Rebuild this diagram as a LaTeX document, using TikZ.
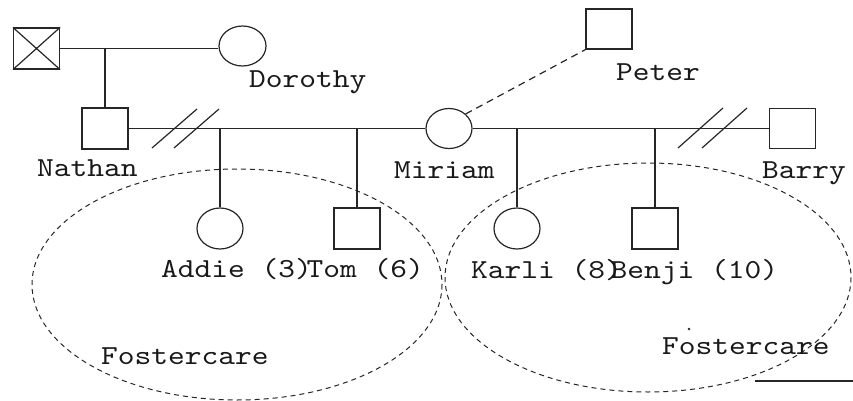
\documentclass[tikz,border=0pt]{standalone}
\usepackage{fontspec}
\newfontfamily\cour[FakeStretch=1.16]{lmmono10-regular.otf}
\usetikzlibrary{shapes.geometric}
\begin{document}
\begin{tikzpicture}[x=1pt,y=-1pt,
  line width=1.2pt, draw=black!85,
  male/.style={draw, rectangle, minimum width=46pt, minimum height=41pt, inner sep=0pt, line width=1.2pt},
  female/.style={draw, ellipse, minimum width=46pt, minimum height=41pt, inner sep=0pt, line width=1.2pt},
  lbl/.style={anchor=base west, inner sep=0pt, font=\cour\fontsize{27.5}{30}\selectfont, text=black!90},
  grp/.style={draw, dashed, line width=1pt, dash pattern=on 5pt off 4pt},
  rel/.style={line width=1.2pt}]
\useasboundingbox (0,0) rectangle (853,401);
% foster care groups
\draw[grp] (237,284.5) ellipse [x radius=205, y radius=115.5];
\draw[grp] (648,277.5) ellipse [x radius=203, y radius=114.5];
% people
\node[male] (gf) at (36.5,48.5) {};
\draw[rel] (gf.north west) -- (gf.south east) (gf.south west) -- (gf.north east);
\node[female, minimum width=47pt, minimum height=40pt] (dor) at (242.5,46) {};
\node[male] (nat) at (105,128.5) {};
\node[female, minimum height=40pt] (mir) at (449,128.5) {};
\node[male, minimum height=40pt] (pet) at (609,29) {};
\node[male, minimum height=40pt] (bar) at (792.5,128.5) {};
\node[female] (add) at (220,228.5) {};
\node[male] (tom) at (357,228.5) {};
\node[female] (kar) at (517,228.5) {};
\node[male] (ben) at (655,228.5) {};
% connectors
\draw[rel] (gf.east) -- (gf.east -| dor.west);
\coordinate (gfd) at (105,48.5);
\draw[rel] (gfd) -- (nat.north);
\draw[rel] (nat.east) -- (mir.west);
\draw[rel] (mir.east) -- (bar.west);
\coordinate (ca) at (220,128.5);
\coordinate (ct) at (357,128.5);
\coordinate (ck) at (517,128.5);
\coordinate (cb) at (655,128.5);
\draw[rel] (ca) -- (add.north);
\draw[rel] (ct) -- (tom.north);
\draw[rel] (ck) -- (kar.north);
\draw[rel] (cb) -- (ben.north);
\draw[rel, dashed, dash pattern=on 7pt off 5pt] (mir.north east) -- (pet.south west);
% divorce marks
\draw[rel] (152,148) -- (197,109) (174,148) -- (219,109);
\draw[rel] (678,148) -- (723,108) (702,148) -- (747,108);
% labels
\node[lbl] (tdor) at (248.5,88) {Dorothy};
\node[lbl] (tnat) at (36.5,176) {Nathan};
\node[lbl] (tpet) at (615.5,81) {Peter};
\node[lbl] (tmir) at (393.5,178) {Miriam};
\node[lbl] (tbar) at (761.5,178) {Barry};
\node[lbl] (tadd) at (160.5,277) {Addie (3)};
\node[lbl] (ttom) at (306,277) {Tom (6)};
\node[lbl] (tkar) at (470.5,278) {Karli (8)};
\node[lbl] (tben) at (610,278) {Benji (10)};
\node[lbl] (tf1) at (100.5,364) {Fostercare};
\node[lbl] (tf2) at (661.5,354) {Fostercare};
% stray marks
\fill[black!85] (689,329) circle (1.4);
\coordinate (bl1) at (755,381);
\coordinate (bl2) at (853,381);
\draw[rel] (bl1) -- (bl2);
\end{tikzpicture}
\end{document}
